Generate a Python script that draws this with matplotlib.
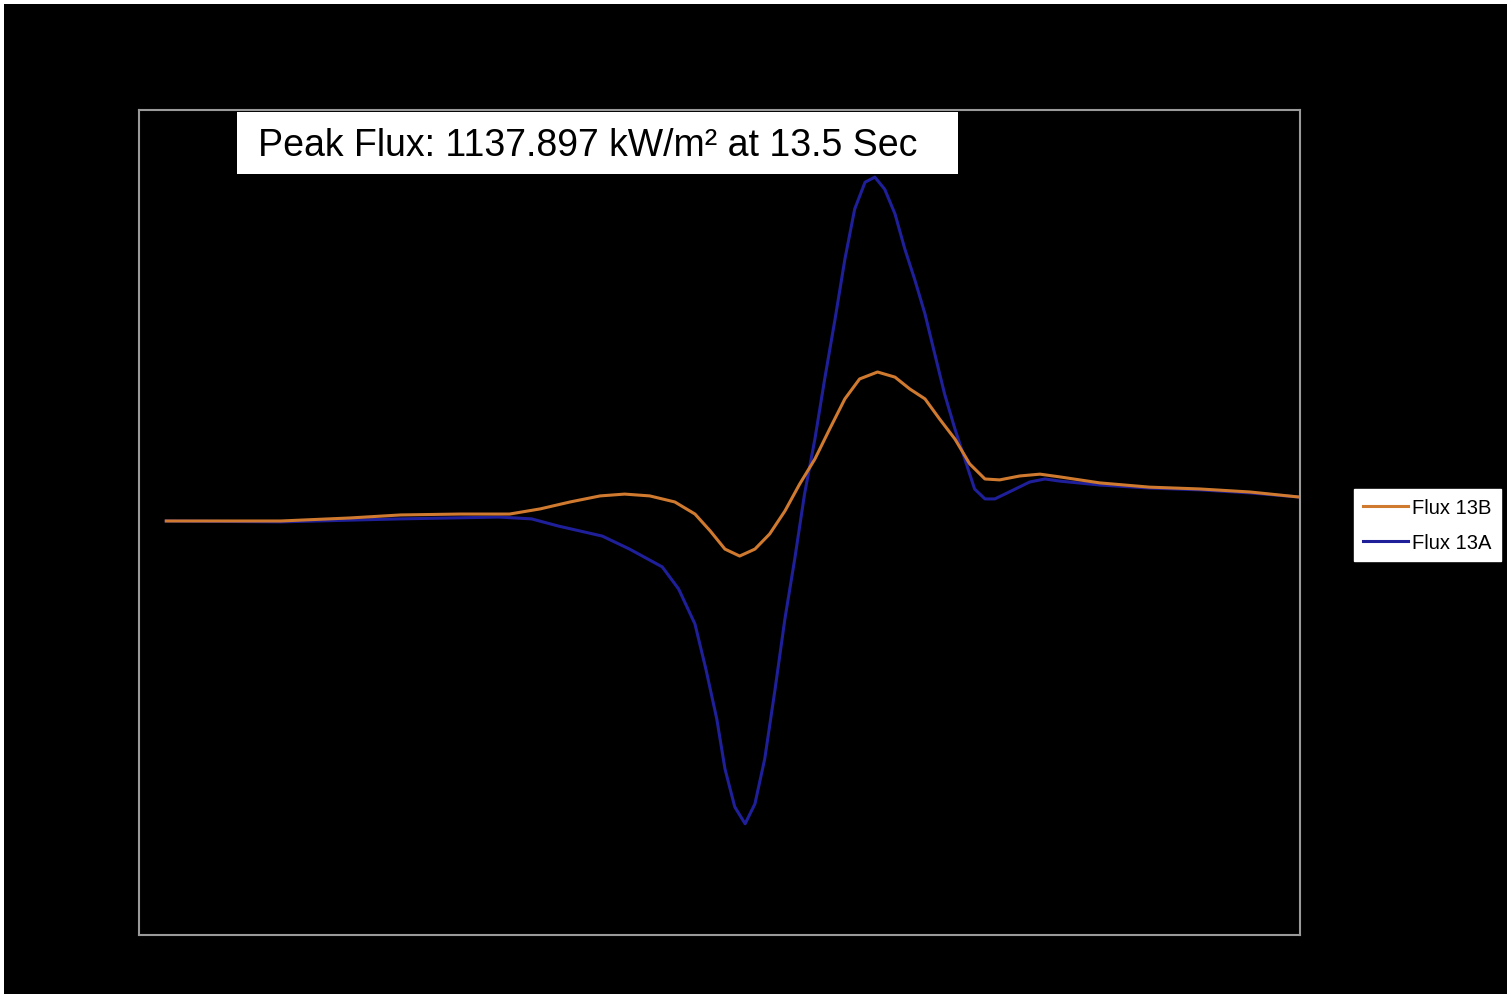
import matplotlib
matplotlib.use("Agg")
import matplotlib.pyplot as plt
from matplotlib.patches import Rectangle

plt.rcParams['font.family'] = ['Liberation Sans', 'DejaVu Sans']

# time (s) and heat flux (kW/m^2)
time_13a = [0.5, 2.6, 4.8, 6.6, 7.2, 7.7, 8.5, 9.0, 9.6, 9.9, 10.2, 10.4, 10.6,
            10.75, 10.93, 11.12, 11.3, 11.48, 11.67, 11.85, 12.03, 12.21, 12.4,
            12.58, 12.77, 12.95, 13.13, 13.32, 13.5, 13.68, 13.87, 14.05, 14.23,
            14.42, 14.6, 14.78, 14.97, 15.15, 15.33, 15.52, 15.7, 16.0, 16.34,
            16.62, 16.89, 17.63, 18.54, 19.46, 20.38, 21.3]
flux_13a = [0, -3, 7, 13, 7, -17, -50, -93, -152, -225, -341, -490, -655,
            -820, -946, -1002, -936, -787, -556, -324, -126, 89, 271,
            470, 668, 866, 1032, 1121, 1137.897, 1098, 1016, 900, 800,
            685, 552, 420, 304, 205, 106, 73, 73, 99, 129,
            139, 132, 119, 109, 103, 93, 79]

time_13b = [0.5, 2.6, 3.87, 4.8, 5.9, 6.8, 7.36, 7.91, 8.46, 8.91, 9.37, 9.83,
            10.2, 10.48, 10.75, 11.02, 11.3, 11.57, 11.85, 12.12, 12.4, 12.67,
            12.95, 13.22, 13.55, 13.87, 14.14, 14.42, 14.69, 14.97, 15.24, 15.52,
            15.79, 16.16, 16.53, 16.89, 17.63, 18.54, 19.46, 20.38, 21.3]
flux_13b = [0, 0, 10, 20, 23, 23, 40, 63, 83, 89, 83, 63,
            23, -33, -93, -116, -93, -43, 33, 122, 205, 304,
            404, 470, 493, 476, 437, 404, 337, 271, 189, 139,
            136, 149, 155, 146, 126, 112, 106, 96, 79]

series_labels = ['Flux 13B', 'Flux 13A']
title_text = 'Peak Flux: 1137.897 kW/m² at 13.5 Sec'

fig = plt.figure(figsize=(15.07, 9.95), dpi=100, facecolor='black')

# white edge strips of the original screenshot
fig.patches.append(Rectangle((0, 1 - 5 / 995), 1, 5 / 995, transform=fig.transFigure,
                             facecolor='white', edgecolor='none'))
fig.patches.append(Rectangle((0, 0), 4 / 1507, 1, transform=fig.transFigure,
                             facecolor='white', edgecolor='none'))

ax = fig.add_axes([139 / 1507, 59 / 995, 1161 / 1507, 825 / 995])
ax.set_facecolor('black')
line_a, = ax.plot(time_13a, flux_13a, color='#1f1f99', lw=2.2, label=series_labels[1],
                  solid_joinstyle='round')
line_b, = ax.plot(time_13b, flux_13b, color='#d07a30', lw=2.2, label=series_labels[0],
                  solid_joinstyle='round')
ax.set_xlim(0, 21.3)
ax.set_ylim(-1370, 1360)
ax.set_xticks([])
ax.set_yticks([])
for sp in ax.spines.values():
    sp.set_color('#9a9a9a')
    sp.set_linewidth(1.5)

# peak flux label box
fig.patches.append(Rectangle((237 / 1507, 1 - 175 / 995), 721 / 1507, 62 / 995,
                             transform=fig.transFigure, facecolor='white',
                             edgecolor='none', zorder=5))
fig.text(588 / 1507, 1 - 146 / 995, title_text, fontsize=27, color='black',
         ha='center', va='center', zorder=6)

leg = fig.legend([line_b, line_a], series_labels, loc='upper left',
                 bbox_to_anchor=(1354 / 1507, 1 - 490 / 995), fontsize=14.5,
                 frameon=True, fancybox=False, framealpha=1, facecolor='white',
                 edgecolor='white', handlelength=2.25, handletextpad=0.2,
                 borderpad=0.45, labelspacing=0.8, borderaxespad=0)

fig.savefig('out.png', dpi=100, facecolor='black')
